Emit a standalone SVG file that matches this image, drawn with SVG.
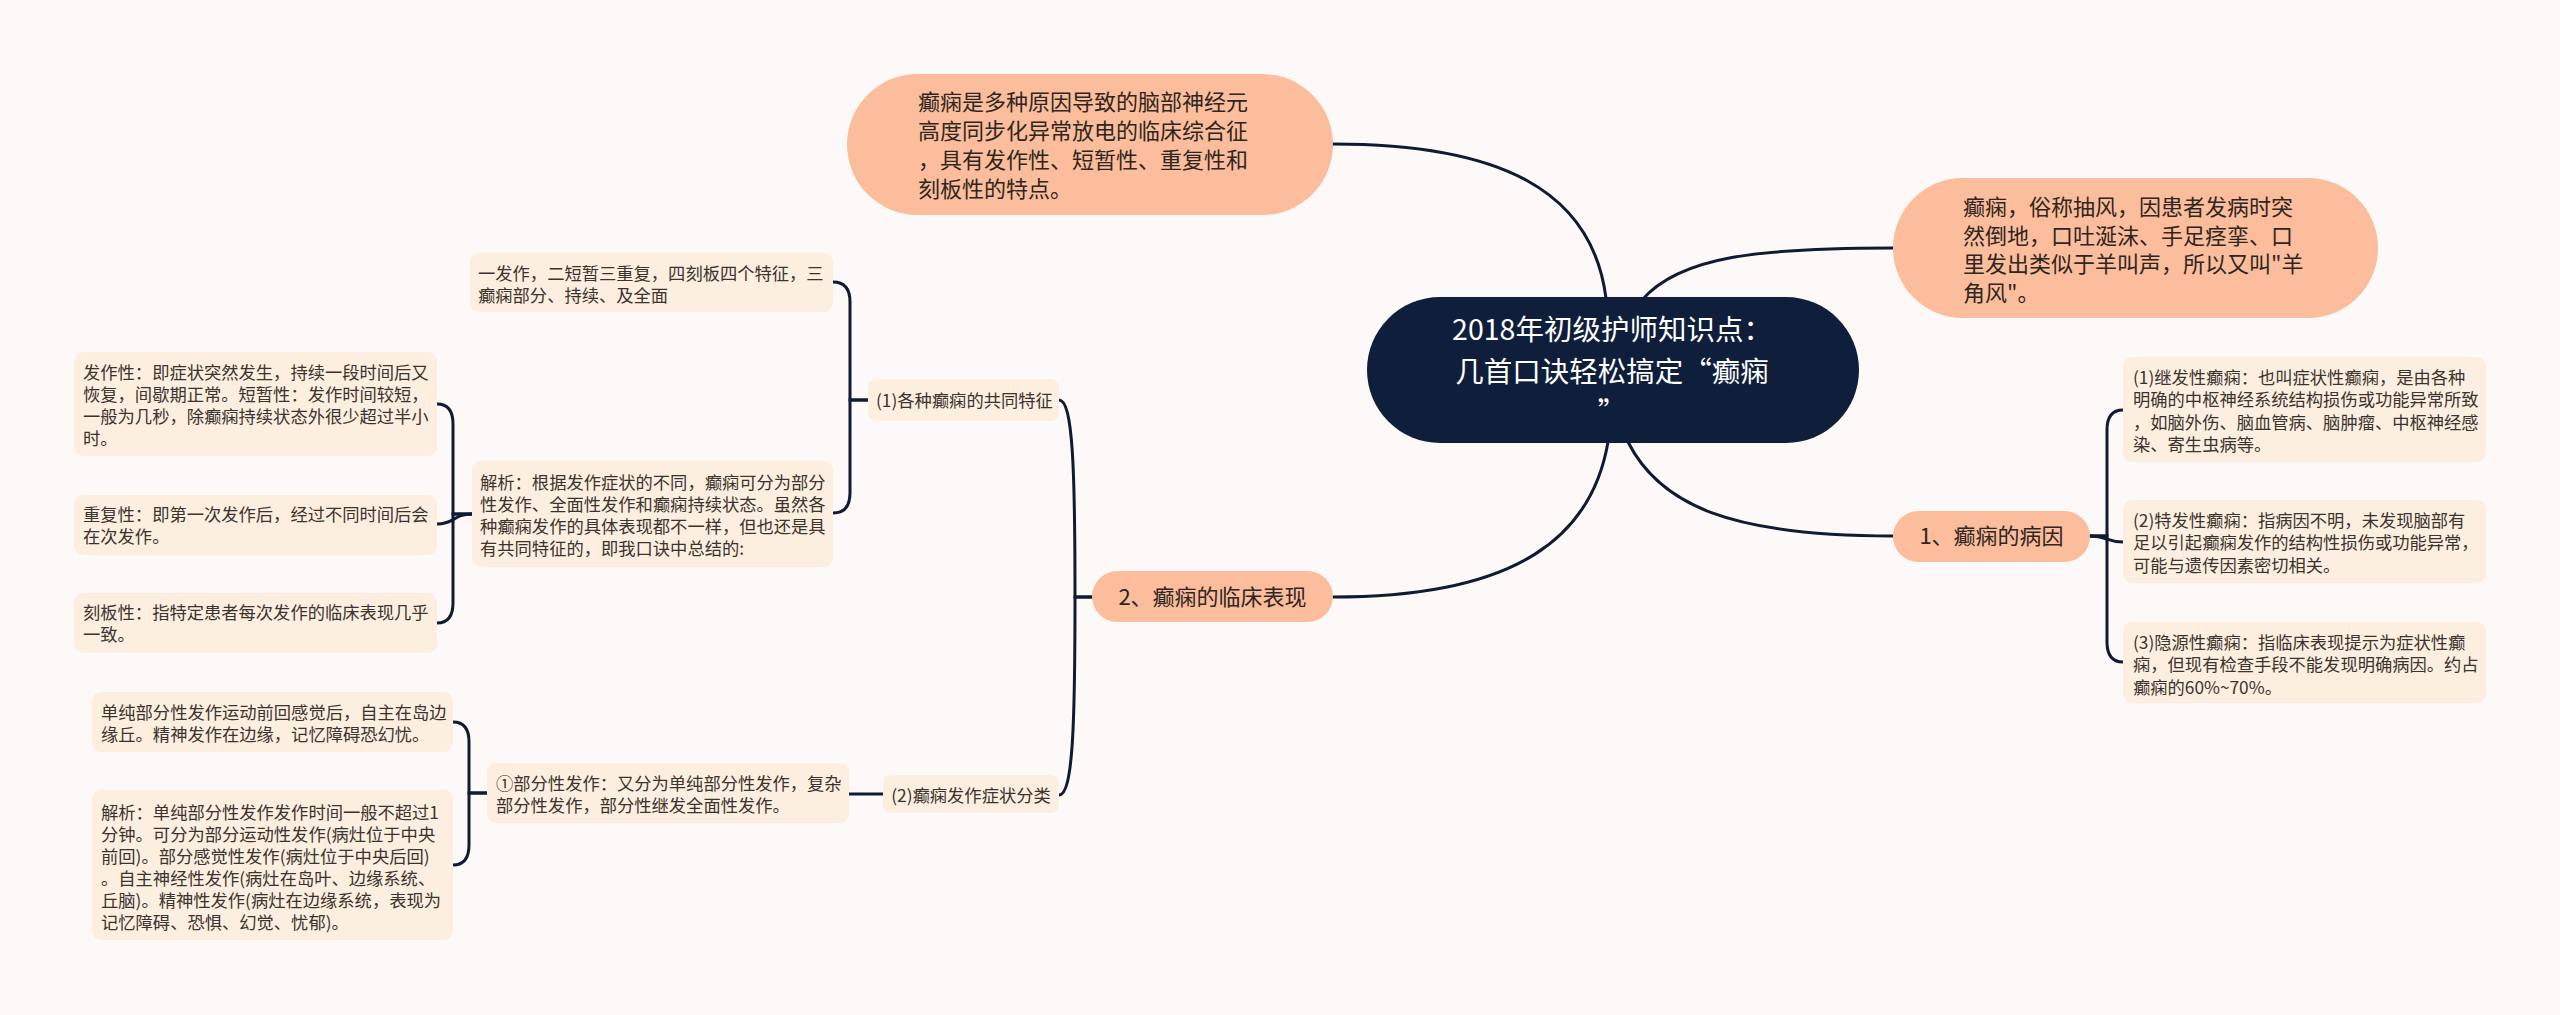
<svg xmlns="http://www.w3.org/2000/svg" width="2560" height="1015" viewBox="0 0 2560 1015">
<style>
text{font-family:"Noto Sans CJK SC","Noto Sans",sans-serif;}
.bg{fill:#fdf9f8;}
.root{fill:#0f1f3b;}
.peach{fill:#fcbd9c;}
.leaf{fill:#fdefe0;}
.t-root{font-size:28.5px;fill:#ffffff;text-anchor:middle;}
.t-big{font-size:22px;fill:#2e2620;}
.t-mid{font-size:22px;fill:#2e2620;text-anchor:middle;}
.t-sm{font-size:17.3px;fill:#3a332e;}
.t-smc{font-size:17.3px;fill:#3a332e;text-anchor:middle;}
.ln{fill:none;stroke:#0f1b33;stroke-width:3;stroke-linecap:round;}
</style>
<rect class="bg" x="0" y="0" width="2560" height="1015"/>

<g id="connectors">
  <path class="ln" d="M1606,298 C1592,190 1500,144 1333,144"/>
  <path class="ln" d="M1642,300 C1680,256 1760,248 1893,248"/>
  <path class="ln" d="M1628,442 C1660,505 1730,536 1893,536"/>
  <path class="ln" d="M1608,442 C1592,535 1520,597 1333,597"/>
  <path class="ln" d="M2090,536 L2107,536 L2107,430 Q2107,410 2123,410"/>
  <path class="ln" d="M2090,536 C2107,536 2107,542 2123,542"/>
  <path class="ln" d="M2090,536 L2107,536 L2107,642 Q2107,662 2123,662"/>
  <path class="ln" d="M1092,597 L1075,597 C1075,470 1073,400 1059,400"/>
  <path class="ln" d="M1092,597 L1075,597 C1075,724 1073,795 1059,795"/>
  <path class="ln" d="M868,400 L850,400 L850,302 Q850,282 833,282"/>
  <path class="ln" d="M868,400 L850,400 L850,493 Q850,513 833,513"/>
  <path class="ln" d="M472,514 L453,514 L453,424 Q453,404 437,404"/>
  <path class="ln" d="M472,514 C453,514 455,524 437,524"/>
  <path class="ln" d="M472,514 L453,514 L453,603 Q453,623 437,623"/>
  <path class="ln" d="M883,794 L849,794"/>
  <path class="ln" d="M487,793 L469,793 L469,742 Q469,722 453,722"/>
  <path class="ln" d="M487,793 L469,793 L469,845 Q469,865 453,865"/>
</g>

<g id="root">
  <rect class="root" x="1367" y="297" width="492" height="146" rx="73"/>
  <text class="t-root" x="1612" y="340">2018年初级护师知识点：</text>
  <text class="t-root" x="1612" y="381.5">几首口诀轻松搞定“癫痫</text>
  <text class="t-root" x="1612" y="423">”</text>
</g>

<g id="n-def">
  <rect class="peach" x="847" y="74" width="486" height="141" rx="70.5"/>
  <text class="t-big" x="918" y="110">癫痫是多种原因导致的脑部神经元</text>
  <text class="t-big" x="918" y="139">高度同步化异常放电的临床综合征</text>
  <text class="t-big" x="918" y="168">，具有发作性、短暂性、重复性和</text>
  <text class="t-big" x="918" y="197">刻板性的特点。</text>
</g>

<g id="n-alias">
  <rect class="peach" x="1893" y="178" width="485" height="140" rx="70"/>
  <text class="t-big" x="1963" y="215">癫痫，俗称抽风，因患者发病时突</text>
  <text class="t-big" x="1963" y="243.5">然倒地，口吐涎沫、手足痉挛、口</text>
  <text class="t-big" x="1963" y="272">里发出类似于羊叫声，所以又叫"羊</text>
  <text class="t-big" x="1963" y="300.5">角风"。</text>
</g>

<g id="n-cause">
  <rect class="peach" x="1893" y="511" width="197" height="51" rx="25.5"/>
  <text class="t-mid" x="1991.5" y="544">1、癫痫的病因</text>
</g>

<g id="n-cause-1">
  <rect class="leaf" x="2123" y="357" width="363" height="105" rx="9"/>
  <text class="t-sm" x="2133" y="384">(1)继发性癫痫：也叫症状性癫痫，是由各种</text>
  <text class="t-sm" x="2133" y="406">明确的中枢神经系统结构损伤或功能异常所致</text>
  <text class="t-sm" x="2133" y="428.5">，如脑外伤、脑血管病、脑肿瘤、中枢神经感</text>
  <text class="t-sm" x="2133" y="451">染、寄生虫病等。</text>
</g>

<g id="n-cause-2">
  <rect class="leaf" x="2123" y="500" width="363" height="83" rx="9"/>
  <text class="t-sm" x="2133" y="527">(2)特发性癫痫：指病因不明，未发现脑部有</text>
  <text class="t-sm" x="2133" y="549">足以引起癫痫发作的结构性损伤或功能异常，</text>
  <text class="t-sm" x="2133" y="571.5">可能与遗传因素密切相关。</text>
</g>

<g id="n-cause-3">
  <rect class="leaf" x="2123" y="622" width="363" height="81" rx="9"/>
  <text class="t-sm" x="2133" y="649">(3)隐源性癫痫：指临床表现提示为症状性癫</text>
  <text class="t-sm" x="2133" y="671">痫，但现有检查手段不能发现明确病因。约占</text>
  <text class="t-sm" x="2133" y="693.5">癫痫的60%~70%。</text>
</g>

<g id="n-clinic">
  <rect class="peach" x="1092" y="571" width="241" height="51" rx="25.5"/>
  <text class="t-mid" x="1212.5" y="605">2、癫痫的临床表现</text>
</g>

<g id="n-common">
  <rect class="leaf" x="868" y="379" width="191" height="42" rx="8"/>
  <text class="t-sm" x="876" y="407">(1)各种癫痫的共同特征</text>
</g>

<g id="n-rhyme">
  <rect class="leaf" x="470" y="253" width="363" height="59" rx="9"/>
  <text class="t-sm" x="478" y="280">一发作，二短暂三重复，四刻板四个特征，三</text>
  <text class="t-sm" x="478" y="302">癫痫部分、持续、及全面</text>
</g>

<g id="n-analysis1">
  <rect class="leaf" x="472" y="461" width="361" height="106" rx="9"/>
  <text class="t-sm" x="480" y="489">解析：根据发作症状的不同，癫痫可分为部分</text>
  <text class="t-sm" x="480" y="511">性发作、全面性发作和癫痫持续状态。虽然各</text>
  <text class="t-sm" x="480" y="533">种癫痫发作的具体表现都不一样，但也还是具</text>
  <text class="t-sm" x="480" y="555">有共同特征的，即我口诀中总结的:</text>
</g>

<g id="n-paroxysmal">
  <rect class="leaf" x="74" y="352" width="363" height="104" rx="9"/>
  <text class="t-sm" x="83" y="379">发作性：即症状突然发生，持续一段时间后又</text>
  <text class="t-sm" x="83" y="401">恢复，间歇期正常。短暂性：发作时间较短，</text>
  <text class="t-sm" x="83" y="423">一般为几秒，除癫痫持续状态外很少超过半小</text>
  <text class="t-sm" x="83" y="445">时。</text>
</g>

<g id="n-repeat">
  <rect class="leaf" x="74" y="495" width="363" height="60" rx="9"/>
  <text class="t-sm" x="83" y="521">重复性：即第一次发作后，经过不同时间后会</text>
  <text class="t-sm" x="83" y="543">在次发作。</text>
</g>

<g id="n-stereo">
  <rect class="leaf" x="74" y="593" width="363" height="60" rx="9"/>
  <text class="t-sm" x="83" y="619">刻板性：指特定患者每次发作的临床表现几乎</text>
  <text class="t-sm" x="83" y="641">一致。</text>
</g>

<g id="n-classify">
  <rect class="leaf" x="883" y="775" width="176" height="38" rx="8"/>
  <text class="t-smc" x="971" y="802">(2)癫痫发作症状分类</text>
</g>

<g id="n-partial">
  <rect class="leaf" x="487" y="763" width="362" height="60" rx="9"/>
  <text class="t-sm" x="496" y="790">①部分性发作：又分为单纯部分性发作，复杂</text>
  <text class="t-sm" x="496" y="812">部分性发作，部分性继发全面性发作。</text>
</g>

<g id="n-simple">
  <rect class="leaf" x="92" y="692" width="361" height="60" rx="9"/>
  <text class="t-sm" x="101" y="719">单纯部分性发作运动前回感觉后，自主在岛边</text>
  <text class="t-sm" x="101" y="741">缘丘。精神发作在边缘，记忆障碍恐幻忧。</text>
</g>

<g id="n-analysis2">
  <rect class="leaf" x="92" y="790" width="361" height="150" rx="9"/>
  <text class="t-sm" x="101" y="819">解析：单纯部分性发作发作时间一般不超过1</text>
  <text class="t-sm" x="101" y="841">分钟。可分为部分运动性发作(病灶位于中央</text>
  <text class="t-sm" x="101" y="863">前回)。部分感觉性发作(病灶位于中央后回)</text>
  <text class="t-sm" x="101" y="885">。自主神经性发作(病灶在岛叶、边缘系统、</text>
  <text class="t-sm" x="101" y="907">丘脑)。精神性发作(病灶在边缘系统，表现为</text>
  <text class="t-sm" x="101" y="929">记忆障碍、恐惧、幻觉、忧郁)。</text>
</g>
</svg>
